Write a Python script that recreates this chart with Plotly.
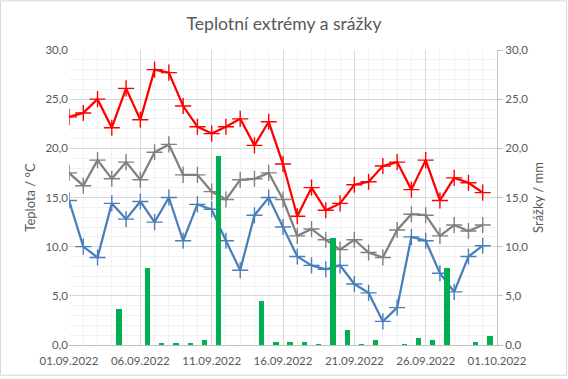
import plotly.graph_objects as go

dates = [
    "2022-09-01", "2022-09-02", "2022-09-03", "2022-09-04", "2022-09-05",
    "2022-09-06", "2022-09-07", "2022-09-08", "2022-09-09", "2022-09-10",
    "2022-09-11", "2022-09-12", "2022-09-13", "2022-09-14", "2022-09-15",
    "2022-09-16", "2022-09-17", "2022-09-18", "2022-09-19", "2022-09-20",
    "2022-09-21", "2022-09-22", "2022-09-23", "2022-09-24", "2022-09-25",
    "2022-09-26", "2022-09-27", "2022-09-28", "2022-09-29", "2022-09-30",
]
t_max = [23.2, 23.6, 25.0, 22.1, 26.1, 22.9, 28.0, 27.7, 24.3, 22.2,
         21.5, 22.2, 23.0, 20.3, 22.7, 18.4, 13.1, 16.0, 13.7, 14.4,
         16.3, 16.6, 18.2, 18.6, 15.8, 18.8, 14.7, 17.0, 16.5, 15.5]
t_avg = [17.5, 16.2, 18.8, 16.9, 18.6, 16.8, 19.6, 20.4, 17.3, 17.3,
         15.6, 14.8, 16.8, 16.9, 17.5, 14.8, 11.1, 11.8, 10.7, 9.7,
         10.7, 9.4, 8.9, 11.7, 13.3, 13.2, 11.1, 12.2, 11.6, 12.2]
t_min = [14.7, 10.0, 8.9, 14.4, 12.8, 14.6, 12.5, 15.0, 10.6, 14.3,
         13.8, 10.6, 7.6, 13.2, 15.0, 12.0, 9.0, 8.1, 7.7, 8.1,
         6.2, 5.3, 2.4, 3.8, 11.0, 10.6, 7.3, 5.4, 9.0, 10.1]
precip = [0.0, 0.0, 0.0, 3.7, 0.0, 7.8, 0.15, 0.15, 0.15, 0.5,
          19.2, 0.0, 0.0, 4.5, 0.3, 0.3, 0.3, 0.1, 10.9, 1.5,
          0.1, 0.5, 0.0, 0.1, 0.7, 0.5, 7.8, 0.0, 0.3, 0.9]

DAY = 86400000
TXT = "#595959"
FONT = "Lato, 'Open Sans', sans-serif"

fig = go.Figure()
fig.add_trace(go.Bar(
    x=dates, y=precip, yaxis="y2", name="Srážky",
    marker=dict(color="#00B050", line=dict(width=0)),
    width=0.37 * DAY, xperiod=DAY, xperiodalignment="middle",
))
for vals, col, nm in [(t_max, "#FF0000", "Max"), (t_avg, "#808080", "Průměr"), (t_min, "#4A7EBB", "Min")]:
    fig.add_trace(go.Scatter(
        x=dates, y=vals, mode="lines+markers", name=nm,
        line=dict(color=col, width=2.25),
        marker=dict(symbol="cross-thin", size=11.5, line=dict(color=col, width=1.4), color=col),
    ))

W, H = 568, 379
L, R, T, B = 69, 71, 50, 32
pw, ph = W - L - R, H - T - B

fig.update_layout(
    width=W, height=H,
    margin=dict(l=L, r=R, t=T, b=B),
    paper_bgcolor="white", plot_bgcolor="white",
    separators=", ",
    showlegend=False,
    bargap=0,
    font=dict(family=FONT, color=TXT, size=12),
    title=dict(text="Teplotní extrémy a srážky", x=0.5, xref="container", xanchor="center",
               y=1 - 24 / H, yref="container", yanchor="middle",
               font=dict(size=17.6, color=TXT, family=FONT)),
    xaxis=dict(
        type="date", range=["2022-09-01", "2022-10-01"],
        tick0="2022-09-01", dtick=5 * DAY, tickformat="%d.%m.%Y",
        showgrid=True, gridcolor="#D9D9D9", gridwidth=1,
        minor=dict(dtick=DAY, tick0="2022-09-01", showgrid=True, gridcolor="#F2F2F2", gridwidth=1),
        showline=True, linecolor="#BFBFBF", linewidth=1,
        ticks="", ticklabelstandoff=5, tickfont=dict(size=11.5, color=TXT), zeroline=False,
    ),
    yaxis=dict(
        range=[0, 30], dtick=5, tick0=0, tickformat=".1f",
        showgrid=True, gridcolor="#D9D9D9", gridwidth=1,
        minor=dict(dtick=1, showgrid=True, gridcolor="#F2F2F2", gridwidth=1),
        zeroline=False, showline=False, ticks="",
        tickfont=dict(size=11.5, color=TXT),
        title=dict(text="Teplota / °C", font=dict(size=13, color=TXT), standoff=6),
    ),
    yaxis2=dict(
        overlaying="y", side="right", range=[0, 30], dtick=5, tick0=0, tickformat=".1f",
        showgrid=False, zeroline=False,
        showline=True, linecolor="#BFBFBF", linewidth=1,
        ticks="outside", ticklen=5, tickcolor="#BFBFBF",
        tickfont=dict(size=11.5, color=TXT),
        title=dict(text="Srážky / mm", font=dict(size=13, color=TXT), standoff=6),
    ),
    shapes=[dict(
        type="rect", xref="paper", yref="paper", layer="above",
        x0=-(L - 0.5) / pw, x1=1 + (R - 1.5) / pw,
        y0=-(B - 1.5) / ph, y1=1 + (T - 0.5) / ph,
        line=dict(color="#D9D9D9", width=1), fillcolor="rgba(0,0,0,0)",
    )],
)

fig.write_html("out.html", config={"displayModeBar": False},
               post_script="document.body.style.margin='0';")
